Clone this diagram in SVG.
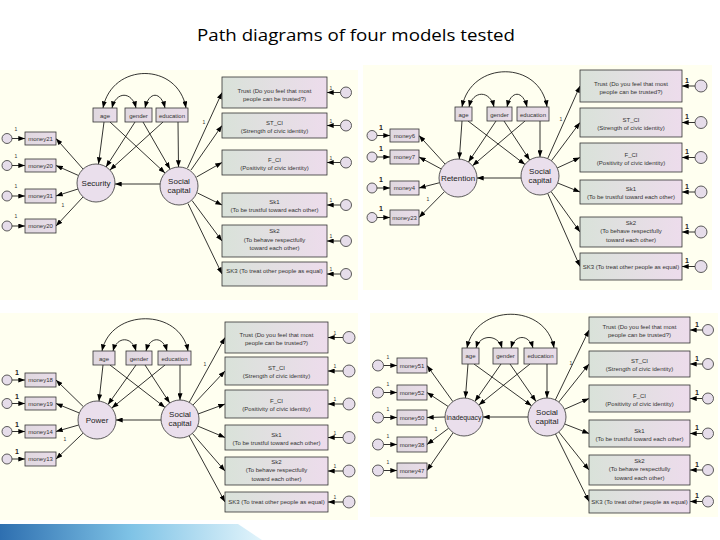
<svg xmlns="http://www.w3.org/2000/svg" width="720" height="540" viewBox="0 0 720 540">
<defs>
<linearGradient id="gb" x1="0" y1="0" x2="1" y2="0"><stop offset="0" stop-color="#D9E2D9"/><stop offset="1" stop-color="#EDDCEC"/></linearGradient>
<linearGradient id="gs" x1="0" y1="0" x2="1" y2="0"><stop offset="0" stop-color="#DFD8DF"/><stop offset="1" stop-color="#E9DCE9"/></linearGradient>
<linearGradient id="gband" x1="0" y1="0" x2="1" y2="0"><stop offset="0" stop-color="#2E6FB0"/><stop offset="0.5" stop-color="#7FC3E6"/><stop offset="1" stop-color="#E2F4FB"/></linearGradient>
<marker id="a" viewBox="0 0 8 6" refX="8" refY="3" markerWidth="7" markerHeight="5" orient="auto-start-reverse" markerUnits="userSpaceOnUse"><path d="M0,0 L8,3 L0,6 z" fill="#000"/></marker>
<style>
.bg{fill:#FFFFF0}
.box{fill:url(#gb);stroke:#333;stroke-width:0.8}
.sb{fill:url(#gs);stroke:#333;stroke-width:0.8}
.lat{fill:#EADFEC;stroke:#333;stroke-width:0.8}
.err{fill:#E6DDEA;stroke:#333;stroke-width:0.8}
text{font-family:"Liberation Sans",Arial,sans-serif;fill:#333;text-anchor:middle}
.t{font-size:6px}
.lt{font-size:8px;fill:#222}
.o{font-size:5px}
.ob{font-size:7px;font-weight:bold;fill:#222}
.c line,.c path{stroke:#000;stroke-width:0.8;fill:none;marker-end:url(#a)}
.c path{marker-start:url(#a)}
</style>
</defs>
<rect width="720" height="540" fill="#FFFFFF"/>
<text x="356" y="41" style="font-family:'Open Sans','Liberation Sans',sans-serif;font-size:17px;fill:#000" textLength="318" lengthAdjust="spacingAndGlyphs">Path diagrams of four models tested</text>
<polygon points="0,524 238,524 262,540 0,540" fill="url(#gband)"/>

<rect class="bg" x="0" y="70" width="358" height="230"/>
<rect class="bg" x="363" y="65" width="349" height="225"/>
<rect class="bg" x="0" y="313" width="358" height="207"/>
<rect class="bg" x="370" y="313" width="348" height="204"/>

<!-- Connectors -->
<g id="connectors" class="c">
<!-- panel 1 -->
<path d="M103,108 C112,62 178,62 186,108"/>
<path d="M112,108 C116,91 132,91 136,108"/>
<path d="M145,108 C149,91 161,91 165,108"/>
<line x1="104" y1="122" x2="98.5" y2="164"/>
<line x1="135" y1="122" x2="106" y2="167"/>
<line x1="163" y1="122" x2="110" y2="170"/>
<line x1="110" y1="122" x2="165" y2="173"/>
<line x1="143" y1="122" x2="170" y2="169"/>
<line x1="178" y1="122" x2="178.5" y2="167"/>
<line x1="160" y1="184" x2="115" y2="184"/>
<line x1="83" y1="169" x2="56" y2="138.5"/>
<line x1="78.5" y1="175.5" x2="56" y2="165.5"/>
<line x1="78" y1="189" x2="56" y2="196"/>
<line x1="83" y1="197" x2="56" y2="226"/>
<line x1="12" y1="138.5" x2="25" y2="138.5"/>
<line x1="12" y1="165.5" x2="25" y2="165.5"/>
<line x1="12" y1="196" x2="25" y2="196"/>
<line x1="12" y1="226" x2="25" y2="226"/>
<line x1="187.5" y1="168" x2="222" y2="92.5"/>
<line x1="191" y1="170" x2="222" y2="125.5"/>
<line x1="196.5" y1="177" x2="222" y2="162.5"/>
<line x1="197.5" y1="193" x2="222" y2="205"/>
<line x1="192" y1="200.5" x2="222" y2="241"/>
<line x1="188" y1="203.5" x2="222" y2="274"/>
<line x1="340.5" y1="92.5" x2="327" y2="92.5"/>
<line x1="340.5" y1="125.5" x2="327" y2="125.5"/>
<line x1="340.5" y1="162.5" x2="327" y2="162.5"/>
<line x1="340.5" y1="205" x2="327" y2="205"/>
<line x1="340.5" y1="241" x2="327" y2="241"/>
<line x1="340.5" y1="274" x2="327" y2="274"/>
<!-- panel 2 -->
<path d="M462,107 C471,60 540,60 547,107"/>
<path d="M469,107 C473,90 490,90 494,107"/>
<path d="M507,107 C511,90 523,90 527,107"/>
<line x1="462" y1="121" x2="459.3" y2="159"/>
<line x1="496" y1="121" x2="468.5" y2="162"/>
<line x1="525" y1="121" x2="472.5" y2="165.7"/>
<line x1="468" y1="121" x2="525" y2="164.5"/>
<line x1="504" y1="121" x2="529.6" y2="160"/>
<line x1="540" y1="121" x2="540" y2="157"/>
<line x1="521" y1="178" x2="477" y2="178"/>
<line x1="445" y1="164" x2="419" y2="135.5"/>
<line x1="441.3" y1="169" x2="419" y2="157"/>
<line x1="439.6" y1="182.7" x2="419" y2="188"/>
<line x1="444.6" y1="191.5" x2="419" y2="217.5"/>
<line x1="377" y1="135.5" x2="390" y2="135.5"/>
<line x1="377" y1="157" x2="390" y2="157"/>
<line x1="377" y1="188" x2="390" y2="188"/>
<line x1="377" y1="217.5" x2="390" y2="217.5"/>
<line x1="547.7" y1="158.6" x2="580" y2="86"/>
<line x1="551.4" y1="160.8" x2="580" y2="122.5"/>
<line x1="557.2" y1="168" x2="580" y2="157.5"/>
<line x1="557.6" y1="183" x2="580" y2="192"/>
<line x1="551" y1="191.5" x2="580" y2="232"/>
<line x1="547.7" y1="193.4" x2="580" y2="266.5"/>
<line x1="695" y1="86" x2="682" y2="86"/>
<line x1="695" y1="122.5" x2="682" y2="122.5"/>
<line x1="695" y1="157.5" x2="682" y2="157.5"/>
<line x1="695" y1="192" x2="682" y2="192"/>
<line x1="695" y1="232" x2="682" y2="232"/>
<line x1="695" y1="266.5" x2="682" y2="266.5"/>
<!-- panel 3 -->
<path d="M102,351 C111,308 180,308 188,351"/>
<path d="M113,351 C117,336 132,336 136,351"/>
<path d="M146,351 C150,336 163,336 167,351"/>
<line x1="103" y1="365" x2="99" y2="401"/>
<line x1="136" y1="365" x2="108" y2="404.5"/>
<line x1="165" y1="365" x2="111.8" y2="408"/>
<line x1="110" y1="365" x2="165" y2="407.4"/>
<line x1="145" y1="365" x2="169.7" y2="403"/>
<line x1="180" y1="365" x2="180" y2="400"/>
<line x1="161" y1="420" x2="116" y2="420"/>
<line x1="83.4" y1="406.7" x2="56" y2="380"/>
<line x1="79.4" y1="413" x2="56" y2="403.5"/>
<line x1="78.7" y1="425" x2="56" y2="431.5"/>
<line x1="83.2" y1="433" x2="56" y2="459"/>
<line x1="12" y1="380" x2="25" y2="380"/>
<line x1="12" y1="403.5" x2="25" y2="403.5"/>
<line x1="12" y1="431.5" x2="25" y2="431.5"/>
<line x1="12" y1="459" x2="25" y2="459"/>
<line x1="189.2" y1="402.4" x2="225" y2="337.5"/>
<line x1="193" y1="405" x2="225" y2="371"/>
<line x1="198" y1="414" x2="225" y2="404"/>
<line x1="197.6" y1="426" x2="225" y2="437.5"/>
<line x1="192.4" y1="433.4" x2="225" y2="471"/>
<line x1="189" y1="435.7" x2="225" y2="502"/>
<line x1="343" y1="337.5" x2="328" y2="337.5"/>
<line x1="343" y1="371" x2="328" y2="371"/>
<line x1="343" y1="404" x2="328" y2="404"/>
<line x1="343" y1="437.5" x2="328" y2="437.5"/>
<line x1="343" y1="471" x2="328" y2="471"/>
<line x1="343" y1="502" x2="328" y2="502"/>
<!-- panel 4 -->
<path d="M467,348 C476,303 546,303 554,348"/>
<path d="M476,348 C480,334 498,334 502,348"/>
<path d="M511,348 C515,334 529,334 533,348"/>
<line x1="468" y1="364" x2="465.4" y2="398"/>
<line x1="501" y1="364" x2="474.9" y2="401.4"/>
<line x1="530" y1="364" x2="478.8" y2="405"/>
<line x1="474" y1="364" x2="531.6" y2="405.8"/>
<line x1="510" y1="364" x2="536" y2="401.4"/>
<line x1="547" y1="364" x2="547" y2="398"/>
<line x1="528" y1="417" x2="483" y2="417"/>
<line x1="452.9" y1="401.6" x2="427" y2="365.5"/>
<line x1="448.2" y1="406.5" x2="427" y2="392.5"/>
<line x1="445" y1="417" x2="427" y2="417.5"/>
<line x1="448.7" y1="428.2" x2="427" y2="444.5"/>
<line x1="453.2" y1="432.6" x2="427" y2="470.5"/>
<line x1="383.5" y1="365.5" x2="397" y2="365.5"/>
<line x1="383.5" y1="392.5" x2="397" y2="392.5"/>
<line x1="383.5" y1="417.5" x2="397" y2="417.5"/>
<line x1="383.5" y1="444.5" x2="397" y2="444.5"/>
<line x1="383.5" y1="470.5" x2="397" y2="470.5"/>
<line x1="555.3" y1="400" x2="589" y2="330"/>
<line x1="558.8" y1="402" x2="589" y2="364"/>
<line x1="564.4" y1="409.3" x2="589" y2="398.5"/>
<line x1="564.7" y1="424" x2="589" y2="433.5"/>
<line x1="558.8" y1="432" x2="589" y2="470"/>
<line x1="555.5" y1="434" x2="589" y2="501.5"/>
<line x1="702.5" y1="330" x2="690" y2="330"/>
<line x1="702.5" y1="364" x2="690" y2="364"/>
<line x1="702.5" y1="398.5" x2="690" y2="398.5"/>
<line x1="702.5" y1="433.5" x2="690" y2="433.5"/>
<line x1="702.5" y1="470" x2="690" y2="470"/>
<line x1="702.5" y1="501.5" x2="690" y2="501.5"/>
</g>

<!-- path weight labels -->
<g id="weights">
<text class="o" x="16" y="131">1</text><text class="o" x="16" y="158">1</text><text class="o" x="16" y="188">1</text><text class="o" x="16" y="218">1</text>
<text class="o" x="63" y="207">1</text><text class="o" x="204" y="124">1</text>
<text class="o" x="331" y="90">1</text><text class="o" x="331" y="123">1</text><text class="o" x="331" y="160">1</text><text class="o" x="331" y="202">1</text><text class="o" x="331" y="238">1</text><text class="o" x="331" y="271">1</text>
<text class="ob" x="381" y="130">1</text><text class="ob" x="381" y="151">1</text><text class="ob" x="381" y="182">1</text><text class="ob" x="381" y="211">1</text>
<text class="o" x="428" y="201">1</text><text class="o" x="561" y="121">1</text>
<text class="ob" x="687" y="83">1</text><text class="ob" x="687" y="119">1</text><text class="ob" x="687" y="154">1</text><text class="ob" x="687" y="189">1</text><text class="ob" x="687" y="229">1</text><text class="ob" x="687" y="263">1</text>
<text class="ob" x="17" y="375">1</text><text class="ob" x="17" y="399">1</text><text class="ob" x="17" y="427">1</text><text class="ob" x="17" y="454">1</text>
<text class="o" x="65" y="441">1</text><text class="o" x="205" y="366">1</text>
<text class="o" x="335" y="335">1</text><text class="o" x="335" y="368">1</text><text class="o" x="335" y="401">1</text><text class="o" x="335" y="435">1</text><text class="o" x="335" y="468">1</text><text class="o" x="335" y="499">1</text>
<text class="o" x="388" y="359">1</text><text class="o" x="388" y="386">1</text><text class="o" x="388" y="411">1</text><text class="o" x="388" y="438">1</text><text class="o" x="388" y="464">1</text>
<text class="o" x="436" y="431">1</text><text class="o" x="571" y="365">1</text>
<text class="ob" x="697" y="327">1</text><text class="ob" x="697" y="361">1</text><text class="ob" x="697" y="395">1</text><text class="ob" x="697" y="430">1</text><text class="ob" x="697" y="467">1</text><text class="ob" x="697" y="498">1</text>
</g>

<!-- ================= Panel 1 ================= -->
<g id="p1-age"><rect class="sb" x="93" y="108" width="24" height="14"/><text class="t" x="105" y="117.5">age</text></g>
<g id="p1-gender"><rect class="sb" x="125" y="108" width="27" height="14"/><text class="t" x="138.5" y="117.5">gender</text></g>
<g id="p1-education"><rect class="sb" x="156" y="108" width="32" height="14"/><text class="t" x="172" y="117.5">education</text></g>
<g id="p1-money21"><rect class="sb" x="25" y="132" width="31" height="13"/><text class="t" x="40.5" y="140.5">money21</text></g>
<g id="p1-money20a"><rect class="sb" x="25" y="159" width="31" height="13"/><text class="t" x="40.5" y="167.5">money20</text></g>
<g id="p1-money31"><rect class="sb" x="25" y="189" width="31" height="14"/><text class="t" x="40.5" y="198">money31</text></g>
<g id="p1-money20b"><rect class="sb" x="25" y="219" width="31" height="14"/><text class="t" x="40.5" y="228">money20</text></g>
<g id="p1-e1"><circle class="err" cx="7" cy="138.5" r="5"/></g>
<g id="p1-e2"><circle class="err" cx="7" cy="165.5" r="5"/></g>
<g id="p1-e3"><circle class="err" cx="7" cy="196" r="5"/></g>
<g id="p1-e4"><circle class="err" cx="7" cy="226" r="5"/></g>
<g id="p1-security"><circle class="lat" cx="96" cy="183" r="19"/><text class="lt" x="96" y="186">Security</text></g>
<g id="p1-social"><circle class="lat" cx="179" cy="186" r="19"/><text class="lt" x="179" y="184">Social</text><text class="lt" x="179" y="193">capital</text></g>
<g id="p1-trust"><rect class="box" x="222" y="77" width="105" height="31"/><text class="t" x="274.5" y="92.5">Trust (Do you feel that most</text><text class="t" x="274.5" y="100.5">people can be trusted?)</text></g>
<g id="p1-stci"><rect class="box" x="222" y="113" width="105" height="25"/><text class="t" x="274.5" y="125">ST_CI</text><text class="t" x="274.5" y="133">(Strength of civic identity)</text></g>
<g id="p1-fci"><rect class="box" x="222" y="150" width="105" height="25"/><text class="t" x="274.5" y="162">F_CI</text><text class="t" x="274.5" y="170">(Positivity of civic identity)</text></g>
<g id="p1-sk1"><rect class="box" x="222" y="193" width="105" height="24"/><text class="t" x="274.5" y="204">Sk1</text><text class="t" x="274.5" y="212">(To be trustful toward each other)</text></g>
<g id="p1-sk2"><rect class="box" x="222" y="225" width="105" height="32"/><text class="t" x="274.5" y="233">Sk2</text><text class="t" x="274.5" y="241.5">(To behave respectfully</text><text class="t" x="274.5" y="250">toward each other)</text></g>
<g id="p1-sk3"><rect class="box" x="222" y="262" width="105" height="24"/><text class="t" x="274.5" y="273">SK3 (To treat other people as equal)</text></g>
<g id="p1-r1"><circle class="err" cx="346" cy="92.5" r="5.5"/></g>
<g id="p1-r2"><circle class="err" cx="346" cy="125.5" r="5.5"/></g>
<g id="p1-r3"><circle class="err" cx="346" cy="162.5" r="5.5"/></g>
<g id="p1-r4"><circle class="err" cx="346" cy="205" r="5.5"/></g>
<g id="p1-r5"><circle class="err" cx="346" cy="241" r="5.5"/></g>
<g id="p1-r6"><circle class="err" cx="346" cy="274" r="5.5"/></g>

<!-- ================= Panel 2 ================= -->
<g id="p2-age"><rect class="sb" x="455" y="107" width="17" height="14"/><text class="t" x="463.5" y="116.5">age</text></g>
<g id="p2-gender"><rect class="sb" x="487" y="107" width="25" height="14"/><text class="t" x="499.5" y="116.5">gender</text></g>
<g id="p2-education"><rect class="sb" x="517" y="107" width="32" height="14"/><text class="t" x="533" y="116.5">education</text></g>
<g id="p2-money6"><rect class="sb" x="390" y="129" width="29" height="13"/><text class="t" x="404.5" y="137.5">money6</text></g>
<g id="p2-money7"><rect class="sb" x="390" y="150" width="29" height="14"/><text class="t" x="404.5" y="159">money7</text></g>
<g id="p2-money4"><rect class="sb" x="390" y="181" width="29" height="14"/><text class="t" x="404.5" y="190">money4</text></g>
<g id="p2-money23"><rect class="sb" x="390" y="210" width="29" height="15"/><text class="t" x="404.5" y="219.5">money23</text></g>
<g id="p2-e1"><circle class="err" cx="372" cy="135.5" r="5"/></g>
<g id="p2-e2"><circle class="err" cx="372" cy="157" r="5"/></g>
<g id="p2-e3"><circle class="err" cx="372" cy="188" r="5"/></g>
<g id="p2-e4"><circle class="err" cx="372" cy="217.5" r="5"/></g>
<g id="p2-retention"><circle class="lat" cx="458" cy="178" r="19"/><text class="lt" x="458" y="181">Retention</text></g>
<g id="p2-social"><circle class="lat" cx="540" cy="176" r="19"/><text class="lt" x="540" y="174">Social</text><text class="lt" x="540" y="183">capital</text></g>
<g id="p2-trust"><rect class="box" x="580" y="70" width="102" height="32"/><text class="t" x="631" y="86">Trust (Do you feel that most</text><text class="t" x="631" y="94">people can be trusted?)</text></g>
<g id="p2-stci"><rect class="box" x="580" y="108" width="102" height="29"/><text class="t" x="631" y="121.5">ST_CI</text><text class="t" x="631" y="129.5">(Strength of civic identity)</text></g>
<g id="p2-fci"><rect class="box" x="580" y="143" width="102" height="29"/><text class="t" x="631" y="156.5">F_CI</text><text class="t" x="631" y="164.5">(Positivity of civic identity)</text></g>
<g id="p2-sk1"><rect class="box" x="580" y="180" width="102" height="24"/><text class="t" x="631" y="191">Sk1</text><text class="t" x="631" y="199">(To be trustful toward each other)</text></g>
<g id="p2-sk2"><rect class="box" x="580" y="217" width="102" height="30"/><text class="t" x="631" y="224.5">Sk2</text><text class="t" x="631" y="233">(To behave respectfully</text><text class="t" x="631" y="241.5">toward each other)</text></g>
<g id="p2-sk3"><rect class="box" x="580" y="253" width="102" height="27"/><text class="t" x="631" y="268.5">SK3 (To treat other people as equal)</text></g>
<g id="p2-r1"><circle class="err" cx="701" cy="86" r="6"/></g>
<g id="p2-r2"><circle class="err" cx="701" cy="122.5" r="6"/></g>
<g id="p2-r3"><circle class="err" cx="701" cy="157.5" r="6"/></g>
<g id="p2-r4"><circle class="err" cx="701" cy="192" r="6"/></g>
<g id="p2-r5"><circle class="err" cx="701" cy="232" r="6"/></g>
<g id="p2-r6"><circle class="err" cx="701" cy="266.5" r="6"/></g>

<!-- ================= Panel 3 ================= -->
<g id="p3-age"><rect class="sb" x="93" y="351" width="22" height="14"/><text class="t" x="104" y="360.5">age</text></g>
<g id="p3-gender"><rect class="sb" x="126" y="351" width="26" height="14"/><text class="t" x="139" y="360.5">gender</text></g>
<g id="p3-education"><rect class="sb" x="158" y="351" width="33" height="14"/><text class="t" x="174.5" y="360.5">education</text></g>
<g id="p3-money18"><rect class="sb" x="25" y="373" width="31" height="14"/><text class="t" x="40.5" y="382">money18</text></g>
<g id="p3-money19"><rect class="sb" x="25" y="397" width="31" height="13"/><text class="t" x="40.5" y="405.5">money19</text></g>
<g id="p3-money14"><rect class="sb" x="25" y="425" width="31" height="13"/><text class="t" x="40.5" y="433.5">money14</text></g>
<g id="p3-money13"><rect class="sb" x="25" y="452" width="31" height="14"/><text class="t" x="40.5" y="461">money13</text></g>
<g id="p3-e1"><circle class="err" cx="7" cy="380" r="5"/></g>
<g id="p3-e2"><circle class="err" cx="7" cy="403.5" r="5"/></g>
<g id="p3-e3"><circle class="err" cx="7" cy="431.5" r="5"/></g>
<g id="p3-e4"><circle class="err" cx="7" cy="459" r="5"/></g>
<g id="p3-power"><circle class="lat" cx="97" cy="420" r="19"/><text class="lt" x="97" y="423">Power</text></g>
<g id="p3-social"><circle class="lat" cx="180" cy="419" r="19"/><text class="lt" x="180" y="417">Social</text><text class="lt" x="180" y="426">capital</text></g>
<g id="p3-trust"><rect class="box" x="225" y="322" width="103" height="31"/><text class="t" x="276.5" y="337">Trust (Do you feel that most</text><text class="t" x="276.5" y="345">people can be trusted?)</text></g>
<g id="p3-stci"><rect class="box" x="225" y="357" width="103" height="28"/><text class="t" x="276.5" y="370">ST_CI</text><text class="t" x="276.5" y="378">(Strength of civic identity)</text></g>
<g id="p3-fci"><rect class="box" x="225" y="390" width="103" height="28"/><text class="t" x="276.5" y="403">F_CI</text><text class="t" x="276.5" y="411">(Positivity of civic identity)</text></g>
<g id="p3-sk1"><rect class="box" x="225" y="425" width="103" height="25"/><text class="t" x="276.5" y="436.5">Sk1</text><text class="t" x="276.5" y="444.5">(To be trustful toward each other)</text></g>
<g id="p3-sk2"><rect class="box" x="225" y="457" width="103" height="28"/><text class="t" x="276.5" y="463.5">Sk2</text><text class="t" x="276.5" y="472">(To behave respectfully</text><text class="t" x="276.5" y="480.5">toward each other)</text></g>
<g id="p3-sk3"><rect class="box" x="225" y="492" width="103" height="20"/><text class="t" x="276.5" y="504">SK3 (To treat other people as equal)</text></g>
<g id="p3-r1"><circle class="err" cx="349" cy="337.5" r="6"/></g>
<g id="p3-r2"><circle class="err" cx="349" cy="371" r="6"/></g>
<g id="p3-r3"><circle class="err" cx="349" cy="404" r="6"/></g>
<g id="p3-r4"><circle class="err" cx="349" cy="437.5" r="6"/></g>
<g id="p3-r5"><circle class="err" cx="349" cy="471" r="6"/></g>
<g id="p3-r6"><circle class="err" cx="349" cy="502" r="6"/></g>

<!-- ================= Panel 4 ================= -->
<g id="p4-age"><rect class="sb" x="462" y="348" width="17" height="16"/><text class="t" x="470.5" y="358">age</text></g>
<g id="p4-gender"><rect class="sb" x="493" y="348" width="25" height="16"/><text class="t" x="505.5" y="358">gender</text></g>
<g id="p4-education"><rect class="sb" x="524" y="348" width="33" height="16"/><text class="t" x="540.5" y="358">education</text></g>
<g id="p4-money51"><rect class="sb" x="397" y="358" width="30" height="15"/><text class="t" x="412" y="367.5">money51</text></g>
<g id="p4-money52"><rect class="sb" x="397" y="385" width="30" height="15"/><text class="t" x="412" y="394.5">money52</text></g>
<g id="p4-money50"><rect class="sb" x="397" y="410" width="30" height="15"/><text class="t" x="412" y="419.5">money50</text></g>
<g id="p4-money38"><rect class="sb" x="397" y="437" width="30" height="15"/><text class="t" x="412" y="446.5">money38</text></g>
<g id="p4-money47"><rect class="sb" x="397" y="463" width="30" height="15"/><text class="t" x="412" y="472.5">money47</text></g>
<g id="p4-e1"><circle class="err" cx="378" cy="365.5" r="5.5"/></g>
<g id="p4-e2"><circle class="err" cx="378" cy="392.5" r="5.5"/></g>
<g id="p4-e3"><circle class="err" cx="378" cy="417.5" r="5.5"/></g>
<g id="p4-e4"><circle class="err" cx="378" cy="444.5" r="5.5"/></g>
<g id="p4-e5"><circle class="err" cx="378" cy="470.5" r="5.5"/></g>
<g id="p4-inadequacy"><circle class="lat" cx="464" cy="417" r="19"/><text class="lt" x="464" y="419.5" style="font-size:6.8px">inadequacy</text></g>
<g id="p4-social"><circle class="lat" cx="547" cy="417" r="19"/><text class="lt" x="547" y="415">Social</text><text class="lt" x="547" y="424">capital</text></g>
<g id="p4-trust"><rect class="box" x="589" y="317" width="101" height="26"/><text class="t" x="639.5" y="329">Trust (Do you feel that most</text><text class="t" x="639.5" y="337">people can be trusted?)</text></g>
<g id="p4-stci"><rect class="box" x="589" y="351" width="101" height="26"/><text class="t" x="639.5" y="363">ST_CI</text><text class="t" x="639.5" y="371">(Strength of civic identity)</text></g>
<g id="p4-fci"><rect class="box" x="589" y="385" width="101" height="27"/><text class="t" x="639.5" y="397.5">F_CI</text><text class="t" x="639.5" y="405.5">(Positivity of civic identity)</text></g>
<g id="p4-sk1"><rect class="box" x="589" y="420" width="101" height="27"/><text class="t" x="639.5" y="432.5">Sk1</text><text class="t" x="639.5" y="440.5">(To be trustful toward each other)</text></g>
<g id="p4-sk2"><rect class="box" x="589" y="455" width="101" height="30"/><text class="t" x="639.5" y="462.5">Sk2</text><text class="t" x="639.5" y="471">(To behave respectfully</text><text class="t" x="639.5" y="479.5">toward each other)</text></g>
<g id="p4-sk3"><rect class="box" x="589" y="490" width="101" height="23"/><text class="t" x="639.5" y="503.5">SK3 (To treat other people as equal)</text></g>
<g id="p4-r1"><circle class="err" cx="708" cy="330" r="5.5"/></g>
<g id="p4-r2"><circle class="err" cx="708" cy="364" r="5.5"/></g>
<g id="p4-r3"><circle class="err" cx="708" cy="398.5" r="5.5"/></g>
<g id="p4-r4"><circle class="err" cx="708" cy="433.5" r="5.5"/></g>
<g id="p4-r5"><circle class="err" cx="708" cy="470" r="5.5"/></g>
<g id="p4-r6"><circle class="err" cx="708" cy="501.5" r="5.5"/></g>
</svg>
